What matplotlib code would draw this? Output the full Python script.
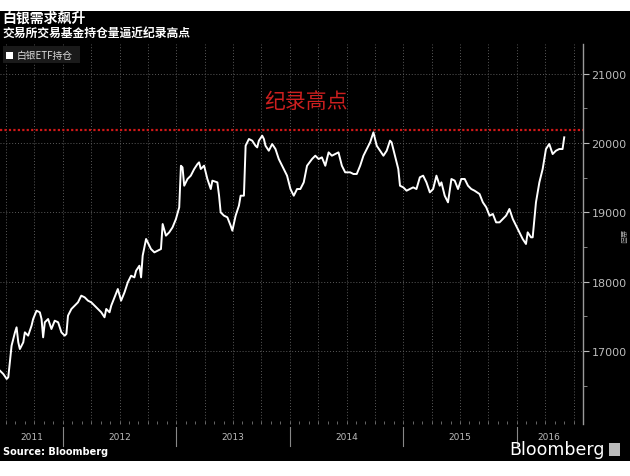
import numpy as np
import matplotlib.pyplot as plt
from matplotlib.patches import Rectangle
from matplotlib.lines import Line2D
from matplotlib.transforms import blended_transform_factory

plt.rcParams['font.family'] = ['Noto Sans CJK SC', 'DejaVu Sans']

# ---------------------------------------------------------
# data: silver ETF holdings (decimal year, tonnes)
# ---------------------------------------------------------
years = [
    2011.447, 2011.476, 2011.506, 2011.520, 2011.549, 2011.579, 2011.593, 2011.608,
    2011.622, 2011.652, 2011.666, 2011.695, 2011.725, 2011.739, 2011.769, 2011.798,
    2011.813, 2011.827, 2011.842, 2011.871, 2011.900, 2011.929, 2011.959, 2011.988,
    2012.017, 2012.032, 2012.046, 2012.076, 2012.105, 2012.134, 2012.163, 2012.193,
    2012.222, 2012.251, 2012.280, 2012.310, 2012.339, 2012.368, 2012.383, 2012.412,
    2012.427, 2012.456, 2012.485, 2012.514, 2012.544, 2012.573, 2012.602, 2012.631,
    2012.646, 2012.675, 2012.690, 2012.704, 2012.734, 2012.748, 2012.777, 2012.807,
    2012.836, 2012.865, 2012.880, 2012.909, 2012.938, 2012.967, 2012.997, 2013.026,
    2013.041, 2013.055, 2013.070, 2013.099, 2013.128, 2013.158, 2013.187, 2013.201,
    2013.216, 2013.245, 2013.274, 2013.304, 2013.318, 2013.362, 2013.377, 2013.391,
    2013.420, 2013.450, 2013.479, 2013.494, 2013.523, 2013.552, 2013.567, 2013.596,
    2013.611, 2013.640, 2013.669, 2013.698, 2013.713, 2013.728, 2013.757, 2013.772,
    2013.786, 2013.815, 2013.845, 2013.874, 2013.903, 2013.947, 2013.976, 2014.006,
    2014.035, 2014.064, 2014.093, 2014.123, 2014.152, 2014.196, 2014.225, 2014.254,
    2014.283, 2014.313, 2014.342, 2014.371, 2014.400, 2014.429, 2014.459, 2014.488,
    2014.532, 2014.561, 2014.590, 2014.620, 2014.649, 2014.678, 2014.708, 2014.737,
    2014.766, 2014.795, 2014.825, 2014.854, 2014.883, 2014.897, 2014.927, 2014.956,
    2014.971, 2015.000, 2015.029, 2015.058, 2015.087, 2015.116, 2015.146, 2015.175,
    2015.204, 2015.234, 2015.263, 2015.292, 2015.321, 2015.336, 2015.365, 2015.394,
    2015.424, 2015.453, 2015.482, 2015.511, 2015.541, 2015.570, 2015.599, 2015.628,
    2015.672, 2015.701, 2015.731, 2015.760, 2015.789, 2015.818, 2015.848, 2015.877,
    2015.906, 2015.935, 2015.965, 2015.994, 2016.023, 2016.052, 2016.081, 2016.096,
    2016.125, 2016.140, 2016.169, 2016.199, 2016.228, 2016.257, 2016.286, 2016.316,
    2016.345, 2016.374, 2016.403, 2016.418,
]
holdings = [
    16714, 16667, 16595, 16620, 17075, 17268, 17340, 17124,
    17027, 17124, 17268, 17220, 17364, 17460, 17580, 17557,
    17460, 17196, 17413, 17460, 17316, 17436, 17413, 17268,
    17220, 17244, 17508, 17605, 17653, 17701, 17797, 17773,
    17725, 17701, 17653, 17605, 17557, 17485, 17605, 17557,
    17653, 17773, 17893, 17725, 17845, 17990, 18085, 18061,
    18157, 18229, 18061, 18374, 18615, 18567, 18470, 18422,
    18446, 18470, 18831, 18663, 18711, 18783, 18903, 19072,
    19672, 19649, 19384, 19481, 19529, 19625, 19697, 19721,
    19625, 19673, 19481, 19336, 19457, 19432, 19240, 19000,
    18952, 18928, 18807, 18735, 18952, 19096, 19240, 19240,
    19961, 20058, 20034, 19961, 19937, 20034, 20106, 20058,
    19961, 19889, 19985, 19913, 19769, 19625, 19529, 19336,
    19240, 19336, 19336, 19432, 19672, 19769, 19817, 19769,
    19793, 19672, 19865, 19817, 19841, 19865, 19672, 19577,
    19577, 19553, 19553, 19672, 19817, 19913, 20010, 20154,
    19961, 19889, 19817, 19889, 20034, 20010, 19817, 19625,
    19384, 19360, 19312, 19336, 19360, 19336, 19505, 19529,
    19432, 19288, 19336, 19529, 19384, 19432, 19240, 19144,
    19481, 19457, 19336, 19481, 19481, 19384, 19336, 19312,
    19264, 19144, 19072, 18951, 18976, 18855, 18855, 18903,
    18952, 19048, 18903, 18807, 18711, 18615, 18543, 18711,
    18639, 18639, 19144, 19433, 19625, 19913, 19986, 19841,
    19889, 19913, 19913, 20082,
]
record_high = 20190
year_labels = ['2011', '2012', '2013', '2014', '2015', '2016']
y_ticks = [17000, 18000, 19000, 20000, 21000]

x_min, x_max = 2011.447, 2016.561
y_min, y_max = 15945, 21429

# ---------------------------------------------------------
# figure
# ---------------------------------------------------------
fig = plt.figure(figsize=(6.3, 4.77), dpi=100, facecolor='white')
fig.patches.append(Rectangle((0, 15 / 477), 1, 450 / 477, transform=fig.transFigure,
                             facecolor='black', edgecolor='none', zorder=-10))

ax = fig.add_axes([0, 52 / 477, 583 / 630, 380 / 477])
ax.set_facecolor('black')
ax.set_xlim(x_min, x_max)
ax.set_ylim(y_min, y_max)

# grid
for yt in y_ticks:
    ax.axhline(yt, color='#5a5a5a', linestyle=(0, (1, 2)), linewidth=0.7, zorder=1)
quarters = np.arange(2011.25, 2016.75, 0.25)
for q in quarters:
    ax.axvline(q, color='#5a5a5a', linestyle=(0, (1, 2)), linewidth=0.7, zorder=1)

# record high line
ax.axhline(record_high, color='#d01818', linestyle=(0, (1, 1)), linewidth=1.6, zorder=2)
ax.text(2014.14, 20600, '纪录高点', color='#cc1f1f', fontsize=15, ha='center', va='center')

# series
ax.plot(years, holdings, color='white', linewidth=1.4, zorder=3)

# spines / ticks
for s in ['top', 'left', 'bottom']:
    ax.spines[s].set_visible(False)
ax.spines['right'].set_color('#9a9a9a')
ax.spines['right'].set_linewidth(1.0)
ax.yaxis.tick_right()
ax.set_yticks(y_ticks)
ax.set_yticklabels([f'{v}' for v in y_ticks])
ax.set_yticks(np.arange(16500, 21500, 1000), minor=True)
ax.tick_params(axis='y', which='major', colors='#bbbbbb', labelsize=8, length=4,
               direction='out', pad=2)
ax.tick_params(axis='y', which='minor', colors='#9a9a9a', length=3, direction='out')
for lab in ax.get_yticklabels():
    lab.set_family('DejaVu Sans')

months = np.arange(2011.5, 2016.6, 1 / 12)
ax.set_xticks(months)
ax.set_xticklabels([])
ax.tick_params(axis='x', colors='#777777', length=2, direction='in', width=0.6)

# year labels and separators
trans = blended_transform_factory(ax.transData, ax.transAxes)
bounds = [x_min, 2012, 2013, 2014, 2015, 2016, x_max]
for i, lab in enumerate(year_labels):
    xc = (bounds[i] + bounds[i + 1]) / 2
    ax.text(xc, -0.032, lab, transform=trans, color='#bbbbbb', fontsize=6.5,
            ha='center', va='center', family='DejaVu Sans')
for b in bounds[1:-1]:
    ax.add_line(Line2D([b, b], [-0.008, -0.058], transform=trans, color='#888888',
                       linewidth=0.8, clip_on=False))

# titles
fig.text(0.004, 1 - 19 / 477, '白银需求飙升', color='white', fontsize=10,
         fontweight='bold', va='center', ha='left')
fig.text(0.004, 1 - 33 / 477, '交易所交易基金持仓量逼近纪录高点', color='white', fontsize=8.5,
         fontweight='bold', va='center', ha='left')

# legend
fig.patches.append(Rectangle((3 / 630, 1 - 64 / 477), 77 / 630, 17 / 477,
                             transform=fig.transFigure, facecolor='#1a1a1a',
                             edgecolor='none', zorder=5))
fig.patches.append(Rectangle((6 / 630, 1 - 59.5 / 477), 7 / 630, 7 / 477,
                             transform=fig.transFigure, facecolor='white',
                             edgecolor='none', zorder=6))
fig.text(17 / 630, 1 - 56 / 477, '白银ETF持仓', color='#dddddd', fontsize=7,
         va='center', ha='left', zorder=7)

# right axis unit
fig.text(622 / 630, 1 - 237 / 477, '盎司', color='#aaaaaa', fontsize=5,
         rotation=270, va='center', ha='center')

# footer
fig.text(3 / 630, 1 - 452 / 477, 'Source: Bloomberg', color='white', fontsize=7,
         fontweight='bold', va='center', ha='left', family='DejaVu Sans')
fig.text(605 / 630, 1 - 450 / 477, 'Bloomberg', color='white', fontsize=12.5,
         va='center', ha='right', family='DejaVu Sans')
fig.patches.append(Rectangle((609 / 630, 1 - 457 / 477), 11 / 630, 13 / 477,
                             transform=fig.transFigure, facecolor='#bbbbbb',
                             edgecolor='none', zorder=5))

fig.savefig('out.png', dpi=100, facecolor='white')
